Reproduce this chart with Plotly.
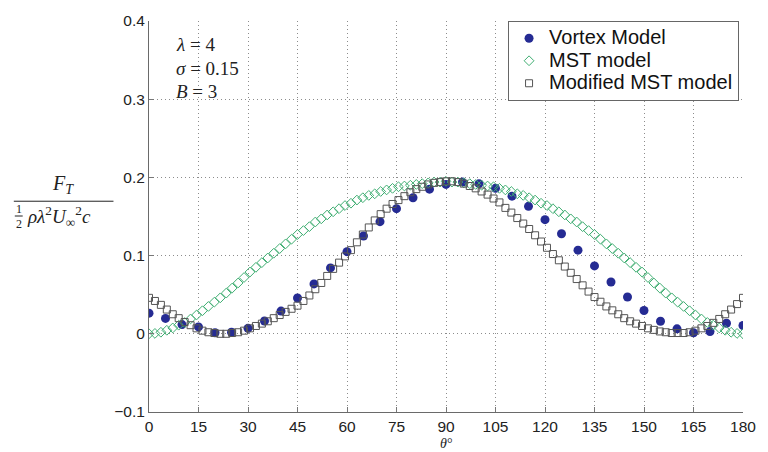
import numpy as np
import plotly.graph_objects as go

# ---------------- data ----------------
theta_vortex = [0, 5, 10, 15, 20, 25, 30, 35, 40, 45, 50, 55, 60, 65, 70, 75, 80, 85, 90,
                95, 100, 105, 110, 115, 120, 125, 130, 135, 140, 145, 150, 155, 160, 165, 170, 175, 180]
vortex_model = [0.0264, 0.0197, 0.0118, 0.0088, 0.0013, 0.0020, 0.0070, 0.0164, 0.0290, 0.0458,
                0.0638, 0.0843, 0.1050, 0.1250, 0.1434, 0.1600, 0.1740, 0.1850, 0.1910,
                0.1940, 0.1920, 0.1860, 0.1760, 0.1630, 0.1460, 0.1280, 0.1070, 0.0868,
                0.0663, 0.0470, 0.0298, 0.0160, 0.0063, 0.0013, 0.0028, 0.0135, 0.0106]

theta_fine = np.linspace(0, 180, 101)

mst_model = [0.000, 0.0005, 0.002, 0.0045, 0.0075, 0.011, 0.0145, 0.019, 0.024, 0.0295,
             0.035, 0.0405, 0.046, 0.052, 0.0585, 0.065, 0.072, 0.079, 0.085, 0.091,
             0.097, 0.103, 0.109, 0.115, 0.121, 0.127, 0.132, 0.137, 0.143, 0.147,
             0.152, 0.156, 0.160, 0.164, 0.167, 0.171, 0.174, 0.177, 0.179, 0.182,
             0.184, 0.186, 0.188, 0.189, 0.190, 0.191, 0.192, 0.193, 0.194, 0.194,
             0.195,
             0.194, 0.194, 0.193, 0.192, 0.191, 0.190, 0.189, 0.188, 0.186, 0.184,
             0.182, 0.179, 0.177, 0.174, 0.171, 0.167, 0.164, 0.160, 0.156, 0.152,
             0.147, 0.143, 0.137, 0.132, 0.127, 0.121, 0.115, 0.109, 0.103, 0.097,
             0.091, 0.085, 0.079, 0.072, 0.065, 0.0585, 0.052, 0.046, 0.0405, 0.035,
             0.0295, 0.024, 0.019, 0.0145, 0.011, 0.0075, 0.0045, 0.002, 0.0005, 0.000]

modified_mst = [0.046, 0.042, 0.037, 0.031, 0.025, 0.020, 0.015, 0.011, 0.007, 0.004,
                0.002, 0.001, 0.000, 0.000, 0.001, 0.002, 0.004, 0.007, 0.010, 0.013,
                0.016, 0.020, 0.024, 0.028, 0.032, 0.036, 0.042, 0.049, 0.057, 0.065,
                0.074, 0.083, 0.091, 0.099, 0.107, 0.117, 0.127, 0.136, 0.145, 0.153,
                0.160, 0.166, 0.171, 0.176, 0.181, 0.185, 0.188, 0.191, 0.193, 0.194,
                0.195,
                0.195, 0.194, 0.192, 0.189, 0.186, 0.182, 0.178, 0.173, 0.168, 0.161,
                0.155, 0.148, 0.141, 0.134, 0.126, 0.118, 0.110, 0.102, 0.094, 0.086,
                0.078, 0.070, 0.062, 0.054, 0.047, 0.041, 0.035, 0.030, 0.025, 0.020,
                0.016, 0.013, 0.010, 0.007, 0.005, 0.003, 0.002, 0.001, 0.001, 0.001,
                0.002, 0.004, 0.007, 0.010, 0.014, 0.019, 0.025, 0.031, 0.038, 0.046]

x_ticks = [0, 15, 30, 45, 60, 75, 90, 105, 120, 135, 150, 165, 180]
y_ticks = [-0.1, 0, 0.1, 0.2, 0.3, 0.4]
y_tick_labels = ["\u22120.1", "0", "0.1", "0.2", "0.3", "0.4"]
series_names = ["Vortex Model", "MST model", "Modified MST model"]

# ---------------- figure ----------------
def legend_name(s):
    return '<span style="font-size:20px">' + s + '</span>'

fig = go.Figure()
fig.add_trace(go.Scatter(x=theta_vortex, y=vortex_model, mode="markers", name=legend_name(series_names[0]),
                         marker=dict(symbol="circle", size=9, color="#252b93")))
fig.add_trace(go.Scatter(x=theta_fine, y=mst_model, mode="markers", name=legend_name(series_names[1]),
                         marker=dict(symbol="diamond-open", size=7.5, color="#3fae72",
                                     line=dict(width=1, color="#3fae72"))))
fig.add_trace(go.Scatter(x=theta_fine, y=modified_mst, mode="markers", name=legend_name(series_names[2]),
                         marker=dict(symbol="square-open", size=7, color="#555555",
                                     line=dict(width=1, color="#555555"))))

axis_font = dict(family="Liberation Sans, Arial", size=15.5, color="#222222")
grid_style = dict(showgrid=True, gridcolor="#8c8c8c", griddash="1px,3px", gridwidth=1)
fig.update_xaxes(range=[0, 180], tickvals=x_ticks, ticks="inside", ticklen=5, tickcolor="#777777",
                 showline=True, linecolor="#6a6a6a", linewidth=1, mirror=False,
                 zeroline=False, tickfont=axis_font, **grid_style)
fig.update_yaxes(range=[-0.1, 0.4], tickvals=y_ticks, ticktext=y_tick_labels, ticks="inside",
                 ticklen=5, tickcolor="#777777",
                 showline=True, linecolor="#6a6a6a", linewidth=1, mirror=False,
                 zeroline=False, tickfont=axis_font, **grid_style)

serif = "Liberation Serif, Times New Roman, serif"
fig.update_layout(
    width=768, height=452,
    margin=dict(l=149, r=17, t=15, b=40),
    paper_bgcolor="white", plot_bgcolor="white",
    legend=dict(x=(747 - 149) / 602, y=(412 - 15) / 397, xanchor="right", yanchor="top",
                bgcolor="white", bordercolor="#666666", borderwidth=1,
                font=dict(family="Liberation Sans, Arial", size=15, color="#111111")),
    showlegend=True,
)

def px(xp):
    return (xp - 149) / 602

def py(yp):
    return (412 - yp) / 397

# parameter annotations
for txt, yy in [("<i>\u03bb</i> = 4", 39), ("<i>\u03c3</i> = 0.15", 63), ("<i>B</i> = 3", 87)]:
    fig.add_annotation(text=txt, xref="paper", yref="paper",
                       x=px(174), y=py(yy), xanchor="left", yanchor="middle",
                       showarrow=False, font=dict(family=serif, size=19, color="#222222"))

# x-axis label
fig.add_annotation(text="<i>\u03b8</i>\u00b0", xref="paper", yref="paper",
                   x=px(450), y=py(443.5), xanchor="center", yanchor="middle",
                   showarrow=False, font=dict(family=serif, size=14, color="#222222"))

# y-axis label as a fraction
fig.add_annotation(text="<i>F</i><sub><i>T</i></sub>", xref="paper", yref="paper",
                   x=px(62), y=py(181), xanchor="center", yanchor="middle",
                   showarrow=False, font=dict(family=serif, size=20, color="#222222"))
fig.add_shape(type="line", xref="paper", yref="paper", x0=px(12), x1=px(113), y0=py(198), y1=py(198),
              line=dict(color="#222222", width=1))
fig.add_annotation(text="1", xref="paper", yref="paper", x=px(17), y=py(206),
                   xanchor="center", yanchor="middle", showarrow=False,
                   font=dict(family=serif, size=12, color="#222222"))
fig.add_shape(type="line", xref="paper", yref="paper", x0=px(13), x1=px(21), y0=py(213), y1=py(213),
              line=dict(color="#222222", width=1))
fig.add_annotation(text="2", xref="paper", yref="paper", x=px(17), y=py(221),
                   xanchor="center", yanchor="middle", showarrow=False,
                   font=dict(family=serif, size=12, color="#222222"))
fig.add_annotation(text="<i>\u03c1\u03bb</i><sup>2</sup><i>U</i><sub>\u221e</sub><sup>2</sup><i>c</i>",
                   xref="paper", yref="paper", x=px(23), y=py(213), xanchor="left", yanchor="middle",
                   showarrow=False, font=dict(family=serif, size=19, color="#222222"))

fig.write_html("out.html")
